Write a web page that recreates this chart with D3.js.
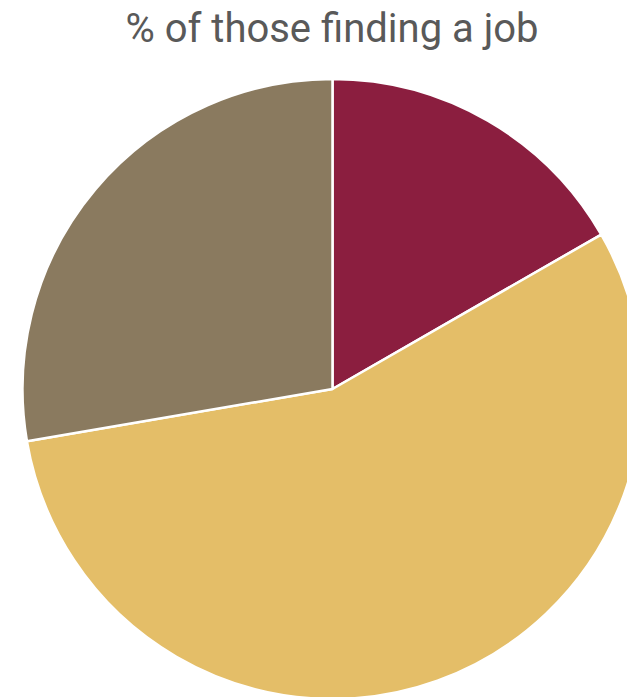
<!DOCTYPE html>
<html><head><meta charset="utf-8">
<script src="https://cdn.jsdelivr.net/npm/d3@7"></script>
<style>body{margin:0;background:#fff;}</style>
</head><body>
<svg id="c" width="627" height="697"></svg>
<script>
const categories = ["A", "B", "C"];
const values = [16.7, 55.6, 27.7];
const colors = ["#8B1E3F", "#E4BE68", "#8A7A5F"];
const title = "% of those finding a job";

const svg = d3.select("#c");
const cx = 332.5, cy = 389, r = 310;
const pie = d3.pie().sort(null).value(d => d.v);
const arc = d3.arc().innerRadius(0).outerRadius(r);
const data = categories.map((c, i) => ({c, v: values[i]}));
const color = d3.scaleOrdinal().domain(categories).range(colors);
svg.append("g").attr("transform", `translate(${cx},${cy})`)
  .selectAll("path").data(pie(data)).join("path")
  .attr("d", arc).attr("fill", d => color(d.data.c))
  .attr("stroke", "#fff").attr("stroke-width", 2.5).attr("stroke-linejoin", "round");
svg.append("text").attr("x", 332).attr("y", 42).attr("text-anchor", "middle")
  .attr("font-family", "Roboto, sans-serif").attr("font-size", 40)
  .attr("fill", "#595959").text(title);
</script>
</body></html>
